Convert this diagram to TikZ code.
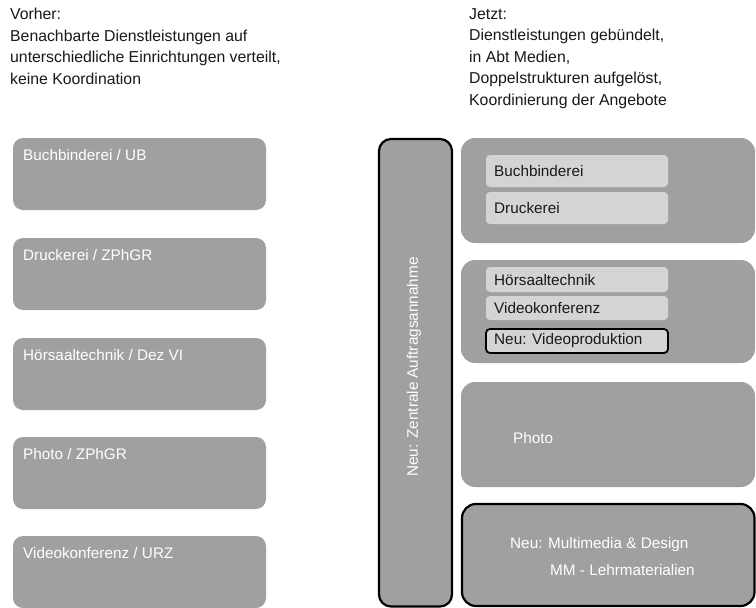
\documentclass[tikz,border=0pt]{standalone}
\usepackage{fontspec}
\setmainfont{Liberation Sans}
\begin{document}
\begin{tikzpicture}[x=1pt,y=-1pt,
  txt/.style={font=\fontsize{15.8}{21.5}\selectfont, text=black!90, align=left, inner sep=0pt},
  oldbox/.style={fill=boxgray, draw=none, rounded corners=10pt},
  newbox/.style={fill=boxgray, draw=none, rounded corners=14pt},
  newframed/.style={fill=boxgray, draw=black, line width=2.2pt, rounded corners=14pt},
  sub/.style={fill=lightgray2, draw=none, rounded corners=4pt},
  subframed/.style={fill=lightgray2, draw=black, line width=1.8pt, rounded corners=4pt},
  wlabel/.style={font=\fontsize{15.3}{19}\selectfont, text=white, inner sep=0pt, anchor=west},
  dlabel/.style={font=\fontsize{15.3}{19}\selectfont, text=black!90, inner sep=0pt, anchor=west},
]
\definecolor{boxgray}{HTML}{A0A0A0}
\definecolor{lightgray2}{HTML}{D4D4D4}
\useasboundingbox[fill=white] (0,0) rectangle (756,608);

% headings
\node[txt, anchor=north west] (before) at (10,8)
  {Vorher:\\Benachbarte Dienstleistungen auf\\unterschiedliche Einrichtungen verteilt,\\keine Koordination};
\node[txt, anchor=north west] (now) at (469,8)
  {Jetzt:\\Dienstleistungen gebündelt,\\in Abt Medien,\\Doppelstrukturen aufgelöst,\\Koordinierung der Angebote};

% former units
\foreach \y/\name/\lbl in {138/o1/{Buchbinderei / UB}, 238/o2/{Druckerei / ZPhGR}, 338/o3/{Hörsaaltechnik / Dez VI}, 437/o4/{Photo / ZPhGR}, 536/o5/{Videokonferenz / URZ}}{
  \path[oldbox] (13,\y) rectangle (266,\y+72);
  \node[wlabel] (\name) at (23,\y+17) {\lbl};
}

% central order intake
\path[newframed, rounded corners=12pt] (379,139) rectangle (452,606.5);
\node[font=\fontsize{15.3}{19}\selectfont, text=white, rotate=90, inner sep=0pt] (intake) at (414,367) {Neu: Zentrale Auftragsannahme};

% new departments
\path[newbox] (461,138) rectangle (755,243);
\path[sub] (486,155) rectangle (668,187);
\node[dlabel] (b1) at (494,171) {Buchbinderei};
\path[sub] (486,192) rectangle (668,224);
\node[dlabel] (b2) at (494,208) {Druckerei};

\path[newbox] (461,260) rectangle (755,363);
\path[sub] (486,267) rectangle (668,292);
\node[dlabel] (b3) at (494,280) {Hörsaaltechnik};
\path[sub] (486,296) rectangle (668,320);
\node[dlabel] (b4) at (494,308) {Videokonferenz};
\path[subframed] (486,329) rectangle (668,353);
\node[dlabel] (b5) at (494,341) {Neu: Videoproduktion};

\path[newbox] (461,382) rectangle (755,487);
\node[wlabel] (photo) at (513,438) {Photo};

\path[newframed] (462,504) rectangle (754.5,606);
\node[wlabel] (mm) at (510,545) {Neu: Multimedia \& Design};
\node[wlabel] (mm2) at (550,570) {MM - Lehrmaterialien};
\end{tikzpicture}
\end{document}
